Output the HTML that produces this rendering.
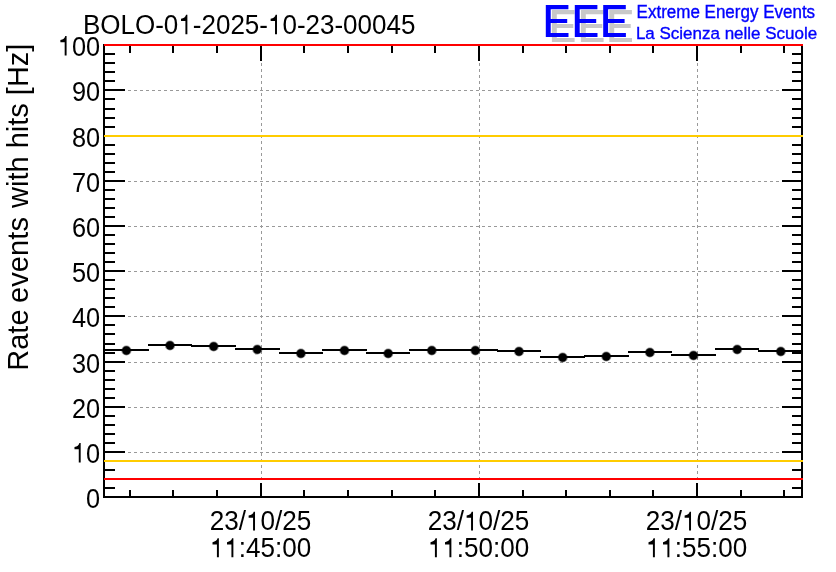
<!DOCTYPE html>
<html><head><meta charset="utf-8"><title>BOLO-01-2025-10-23-00045</title>
<style>html,body{margin:0;padding:0;background:#fff;}body{width:836px;height:572px;overflow:hidden;}svg{display:block;will-change:transform;}text{font-family:"Liberation Sans",sans-serif;font-kerning:none;}</style></head><body>
<svg width="836" height="572" viewBox="0 0 836 572">
<rect x="0" y="0" width="836" height="572" fill="#fff"/>
<g shape-rendering="crispEdges" stroke="#999" stroke-width="1" stroke-dasharray="3,3" fill="none">
<line x1="104" y1="452.5" x2="802" y2="452.5"/>
<line x1="104" y1="407.5" x2="802" y2="407.5"/>
<line x1="104" y1="362.5" x2="802" y2="362.5"/>
<line x1="104" y1="316.5" x2="802" y2="316.5"/>
<line x1="104" y1="271.5" x2="802" y2="271.5"/>
<line x1="104" y1="226.5" x2="802" y2="226.5"/>
<line x1="104" y1="181.5" x2="802" y2="181.5"/>
<line x1="104" y1="136.5" x2="802" y2="136.5"/>
<line x1="104" y1="90.5" x2="802" y2="90.5"/>
<line x1="261.5" y1="498" x2="261.5" y2="46"/>
<line x1="479.5" y1="498" x2="479.5" y2="46"/>
<line x1="697.5" y1="498" x2="697.5" y2="46"/>
</g>
<g shape-rendering="crispEdges">
<rect x="103" y="44" width="2" height="454" fill="#000"/>
<rect x="801" y="44" width="2" height="454" fill="#000"/>
<rect x="103" y="496" width="700" height="2" fill="#000"/>
<rect x="103" y="44" width="700" height="2" fill="#000"/>
<rect x="103" y="496" width="22" height="2" fill="#000"/>
<rect x="782" y="496" width="21" height="2" fill="#000"/>
<rect x="103" y="487" width="12" height="2" fill="#000"/>
<rect x="792" y="487" width="11" height="2" fill="#000"/>
<rect x="103" y="478" width="12" height="2" fill="#000"/>
<rect x="792" y="478" width="11" height="2" fill="#000"/>
<rect x="103" y="469" width="12" height="2" fill="#000"/>
<rect x="792" y="469" width="11" height="2" fill="#000"/>
<rect x="103" y="460" width="12" height="2" fill="#000"/>
<rect x="792" y="460" width="11" height="2" fill="#000"/>
<rect x="103" y="451" width="22" height="2" fill="#000"/>
<rect x="782" y="451" width="21" height="2" fill="#000"/>
<rect x="103" y="442" width="12" height="2" fill="#000"/>
<rect x="792" y="442" width="11" height="2" fill="#000"/>
<rect x="103" y="433" width="12" height="2" fill="#000"/>
<rect x="792" y="433" width="11" height="2" fill="#000"/>
<rect x="103" y="424" width="12" height="2" fill="#000"/>
<rect x="792" y="424" width="11" height="2" fill="#000"/>
<rect x="103" y="415" width="12" height="2" fill="#000"/>
<rect x="792" y="415" width="11" height="2" fill="#000"/>
<rect x="103" y="406" width="22" height="2" fill="#000"/>
<rect x="782" y="406" width="21" height="2" fill="#000"/>
<rect x="103" y="397" width="12" height="2" fill="#000"/>
<rect x="792" y="397" width="11" height="2" fill="#000"/>
<rect x="103" y="388" width="12" height="2" fill="#000"/>
<rect x="792" y="388" width="11" height="2" fill="#000"/>
<rect x="103" y="379" width="12" height="2" fill="#000"/>
<rect x="792" y="379" width="11" height="2" fill="#000"/>
<rect x="103" y="370" width="12" height="2" fill="#000"/>
<rect x="792" y="370" width="11" height="2" fill="#000"/>
<rect x="103" y="361" width="22" height="2" fill="#000"/>
<rect x="782" y="361" width="21" height="2" fill="#000"/>
<rect x="103" y="352" width="12" height="2" fill="#000"/>
<rect x="792" y="352" width="11" height="2" fill="#000"/>
<rect x="103" y="343" width="12" height="2" fill="#000"/>
<rect x="792" y="343" width="11" height="2" fill="#000"/>
<rect x="103" y="333" width="12" height="2" fill="#000"/>
<rect x="792" y="333" width="11" height="2" fill="#000"/>
<rect x="103" y="324" width="12" height="2" fill="#000"/>
<rect x="792" y="324" width="11" height="2" fill="#000"/>
<rect x="103" y="315" width="22" height="2" fill="#000"/>
<rect x="782" y="315" width="21" height="2" fill="#000"/>
<rect x="103" y="306" width="12" height="2" fill="#000"/>
<rect x="792" y="306" width="11" height="2" fill="#000"/>
<rect x="103" y="297" width="12" height="2" fill="#000"/>
<rect x="792" y="297" width="11" height="2" fill="#000"/>
<rect x="103" y="288" width="12" height="2" fill="#000"/>
<rect x="792" y="288" width="11" height="2" fill="#000"/>
<rect x="103" y="279" width="12" height="2" fill="#000"/>
<rect x="792" y="279" width="11" height="2" fill="#000"/>
<rect x="103" y="270" width="22" height="2" fill="#000"/>
<rect x="782" y="270" width="21" height="2" fill="#000"/>
<rect x="103" y="261" width="12" height="2" fill="#000"/>
<rect x="792" y="261" width="11" height="2" fill="#000"/>
<rect x="103" y="252" width="12" height="2" fill="#000"/>
<rect x="792" y="252" width="11" height="2" fill="#000"/>
<rect x="103" y="243" width="12" height="2" fill="#000"/>
<rect x="792" y="243" width="11" height="2" fill="#000"/>
<rect x="103" y="234" width="12" height="2" fill="#000"/>
<rect x="792" y="234" width="11" height="2" fill="#000"/>
<rect x="103" y="225" width="22" height="2" fill="#000"/>
<rect x="782" y="225" width="21" height="2" fill="#000"/>
<rect x="103" y="216" width="12" height="2" fill="#000"/>
<rect x="792" y="216" width="11" height="2" fill="#000"/>
<rect x="103" y="207" width="12" height="2" fill="#000"/>
<rect x="792" y="207" width="11" height="2" fill="#000"/>
<rect x="103" y="198" width="12" height="2" fill="#000"/>
<rect x="792" y="198" width="11" height="2" fill="#000"/>
<rect x="103" y="189" width="12" height="2" fill="#000"/>
<rect x="792" y="189" width="11" height="2" fill="#000"/>
<rect x="103" y="180" width="22" height="2" fill="#000"/>
<rect x="782" y="180" width="21" height="2" fill="#000"/>
<rect x="103" y="171" width="12" height="2" fill="#000"/>
<rect x="792" y="171" width="11" height="2" fill="#000"/>
<rect x="103" y="162" width="12" height="2" fill="#000"/>
<rect x="792" y="162" width="11" height="2" fill="#000"/>
<rect x="103" y="153" width="12" height="2" fill="#000"/>
<rect x="792" y="153" width="11" height="2" fill="#000"/>
<rect x="103" y="144" width="12" height="2" fill="#000"/>
<rect x="792" y="144" width="11" height="2" fill="#000"/>
<rect x="103" y="135" width="22" height="2" fill="#000"/>
<rect x="782" y="135" width="21" height="2" fill="#000"/>
<rect x="103" y="126" width="12" height="2" fill="#000"/>
<rect x="792" y="126" width="11" height="2" fill="#000"/>
<rect x="103" y="117" width="12" height="2" fill="#000"/>
<rect x="792" y="117" width="11" height="2" fill="#000"/>
<rect x="103" y="108" width="12" height="2" fill="#000"/>
<rect x="792" y="108" width="11" height="2" fill="#000"/>
<rect x="103" y="98" width="12" height="2" fill="#000"/>
<rect x="792" y="98" width="11" height="2" fill="#000"/>
<rect x="103" y="89" width="22" height="2" fill="#000"/>
<rect x="782" y="89" width="21" height="2" fill="#000"/>
<rect x="103" y="80" width="12" height="2" fill="#000"/>
<rect x="792" y="80" width="11" height="2" fill="#000"/>
<rect x="103" y="71" width="12" height="2" fill="#000"/>
<rect x="792" y="71" width="11" height="2" fill="#000"/>
<rect x="103" y="62" width="12" height="2" fill="#000"/>
<rect x="792" y="62" width="11" height="2" fill="#000"/>
<rect x="103" y="53" width="12" height="2" fill="#000"/>
<rect x="792" y="53" width="11" height="2" fill="#000"/>
<rect x="103" y="44" width="22" height="2" fill="#000"/>
<rect x="782" y="44" width="21" height="2" fill="#000"/>
<rect x="129" y="490" width="2" height="8" fill="#000"/>
<rect x="129" y="44" width="2" height="9" fill="#000"/>
<rect x="172" y="490" width="2" height="8" fill="#000"/>
<rect x="172" y="44" width="2" height="9" fill="#000"/>
<rect x="216" y="490" width="2" height="8" fill="#000"/>
<rect x="216" y="44" width="2" height="9" fill="#000"/>
<rect x="260" y="483" width="2" height="15" fill="#000"/>
<rect x="260" y="44" width="2" height="17" fill="#000"/>
<rect x="303" y="490" width="2" height="8" fill="#000"/>
<rect x="303" y="44" width="2" height="9" fill="#000"/>
<rect x="347" y="490" width="2" height="8" fill="#000"/>
<rect x="347" y="44" width="2" height="9" fill="#000"/>
<rect x="391" y="490" width="2" height="8" fill="#000"/>
<rect x="391" y="44" width="2" height="9" fill="#000"/>
<rect x="434" y="490" width="2" height="8" fill="#000"/>
<rect x="434" y="44" width="2" height="9" fill="#000"/>
<rect x="478" y="483" width="2" height="15" fill="#000"/>
<rect x="478" y="44" width="2" height="17" fill="#000"/>
<rect x="522" y="490" width="2" height="8" fill="#000"/>
<rect x="522" y="44" width="2" height="9" fill="#000"/>
<rect x="565" y="490" width="2" height="8" fill="#000"/>
<rect x="565" y="44" width="2" height="9" fill="#000"/>
<rect x="609" y="490" width="2" height="8" fill="#000"/>
<rect x="609" y="44" width="2" height="9" fill="#000"/>
<rect x="652" y="490" width="2" height="8" fill="#000"/>
<rect x="652" y="44" width="2" height="9" fill="#000"/>
<rect x="696" y="483" width="2" height="15" fill="#000"/>
<rect x="696" y="44" width="2" height="17" fill="#000"/>
<rect x="740" y="490" width="2" height="8" fill="#000"/>
<rect x="740" y="44" width="2" height="9" fill="#000"/>
<rect x="783" y="490" width="2" height="8" fill="#000"/>
<rect x="783" y="44" width="2" height="9" fill="#000"/>
<rect x="104" y="135" width="699" height="2" fill="#ffcc00"/>
<rect x="104" y="460" width="699" height="2" fill="#ffcc00"/>
<rect x="104" y="44" width="699" height="2" fill="#ff0000"/>
<rect x="104" y="478" width="699" height="2" fill="#ff0000"/>
<rect x="104" y="349" width="45" height="2" fill="#000"/>
<rect x="148" y="344" width="44" height="2" fill="#000"/>
<rect x="191" y="345" width="45" height="2" fill="#000"/>
<rect x="235" y="348" width="45" height="2" fill="#000"/>
<rect x="279" y="352" width="44" height="2" fill="#000"/>
<rect x="322" y="349" width="45" height="2" fill="#000"/>
<rect x="366" y="352" width="44" height="2" fill="#000"/>
<rect x="409" y="349" width="45" height="2" fill="#000"/>
<rect x="453" y="349" width="45" height="2" fill="#000"/>
<rect x="497" y="350" width="44" height="2" fill="#000"/>
<rect x="540" y="356" width="45" height="2" fill="#000"/>
<rect x="584" y="355" width="45" height="2" fill="#000"/>
<rect x="628" y="351" width="44" height="2" fill="#000"/>
<rect x="671" y="354" width="45" height="2" fill="#000"/>
<rect x="715" y="348" width="44" height="2" fill="#000"/>
<rect x="758" y="350" width="45" height="2" fill="#000"/>
</g>
<circle cx="126.4" cy="350.5" r="5.1" fill="#000" fill-opacity="0.45"/><circle cx="126.4" cy="350.5" r="4.2" fill="#000"/>
<circle cx="170.0" cy="345.5" r="5.1" fill="#000" fill-opacity="0.45"/><circle cx="170.0" cy="345.5" r="4.2" fill="#000"/>
<circle cx="213.7" cy="346.5" r="5.1" fill="#000" fill-opacity="0.45"/><circle cx="213.7" cy="346.5" r="4.2" fill="#000"/>
<circle cx="257.3" cy="349.5" r="5.1" fill="#000" fill-opacity="0.45"/><circle cx="257.3" cy="349.5" r="4.2" fill="#000"/>
<circle cx="300.9" cy="353.5" r="5.1" fill="#000" fill-opacity="0.45"/><circle cx="300.9" cy="353.5" r="4.2" fill="#000"/>
<circle cx="344.5" cy="350.5" r="5.1" fill="#000" fill-opacity="0.45"/><circle cx="344.5" cy="350.5" r="4.2" fill="#000"/>
<circle cx="388.2" cy="353.5" r="5.1" fill="#000" fill-opacity="0.45"/><circle cx="388.2" cy="353.5" r="4.2" fill="#000"/>
<circle cx="431.8" cy="350.5" r="5.1" fill="#000" fill-opacity="0.45"/><circle cx="431.8" cy="350.5" r="4.2" fill="#000"/>
<circle cx="475.4" cy="350.5" r="5.1" fill="#000" fill-opacity="0.45"/><circle cx="475.4" cy="350.5" r="4.2" fill="#000"/>
<circle cx="519.0" cy="351.5" r="5.1" fill="#000" fill-opacity="0.45"/><circle cx="519.0" cy="351.5" r="4.2" fill="#000"/>
<circle cx="562.7" cy="357.5" r="5.1" fill="#000" fill-opacity="0.45"/><circle cx="562.7" cy="357.5" r="4.2" fill="#000"/>
<circle cx="606.3" cy="356.5" r="5.1" fill="#000" fill-opacity="0.45"/><circle cx="606.3" cy="356.5" r="4.2" fill="#000"/>
<circle cx="649.9" cy="352.5" r="5.1" fill="#000" fill-opacity="0.45"/><circle cx="649.9" cy="352.5" r="4.2" fill="#000"/>
<circle cx="693.5" cy="355.5" r="5.1" fill="#000" fill-opacity="0.45"/><circle cx="693.5" cy="355.5" r="4.2" fill="#000"/>
<circle cx="737.2" cy="349.5" r="5.1" fill="#000" fill-opacity="0.45"/><circle cx="737.2" cy="349.5" r="4.2" fill="#000"/>
<circle cx="780.8" cy="351.5" r="5.1" fill="#000" fill-opacity="0.45"/><circle cx="780.8" cy="351.5" r="4.2" fill="#000"/>
<g transform="translate(100.1,507.55) scale(0.975,1.09)" fill="#000">
<text x="-14.46" y="0" font-size="26">0</text>
</g>
<g transform="translate(100.1,462.55) scale(0.975,1.09)" fill="#000">
<path transform="translate(-28.92,0) scale(1.0000)" d="M9.0 0L7.05 0L7.05 -12.16L2.65 -12.16L2.65 -14.3C5.5 -14.6 7.1 -15.9 7.7 -17.89L9.0 -17.89Z"/>
<text x="-14.46" y="0" font-size="26">0</text>
</g>
<g transform="translate(100.1,417.55) scale(0.975,1.09)" fill="#000">
<text x="-28.92" y="0" font-size="26">20</text>
</g>
<g transform="translate(100.1,372.55) scale(0.975,1.09)" fill="#000">
<text x="-28.92" y="0" font-size="26">30</text>
</g>
<g transform="translate(100.1,326.55) scale(0.975,1.09)" fill="#000">
<text x="-28.92" y="0" font-size="26">40</text>
</g>
<g transform="translate(100.1,281.55) scale(0.975,1.09)" fill="#000">
<text x="-28.92" y="0" font-size="26">50</text>
</g>
<g transform="translate(100.1,236.55) scale(0.975,1.09)" fill="#000">
<text x="-28.92" y="0" font-size="26">60</text>
</g>
<g transform="translate(100.1,191.55) scale(0.975,1.09)" fill="#000">
<text x="-28.92" y="0" font-size="26">70</text>
</g>
<g transform="translate(100.1,146.55) scale(0.975,1.09)" fill="#000">
<text x="-28.92" y="0" font-size="26">80</text>
</g>
<g transform="translate(100.1,100.55) scale(0.975,1.09)" fill="#000">
<text x="-28.92" y="0" font-size="26">90</text>
</g>
<g transform="translate(100.1,55.55) scale(0.975,1.09)" fill="#000">
<path transform="translate(-43.38,0) scale(1.0000)" d="M9.0 0L7.05 0L7.05 -12.16L2.65 -12.16L2.65 -14.3C5.5 -14.6 7.1 -15.9 7.7 -17.89L9.0 -17.89Z"/>
<text x="-28.92" y="0" font-size="26">00</text>
</g>
<g transform="translate(260.5,530.4) scale(1.005,1.048)" fill="#000">
<text x="-50.60" y="0" font-size="26">23/</text>
<path transform="translate(-14.46,0) scale(1.0000)" d="M9.0 0L7.05 0L7.05 -12.16L2.65 -12.16L2.65 -14.3C5.5 -14.6 7.1 -15.9 7.7 -17.89L9.0 -17.89Z"/>
<text x="0.00" y="0" font-size="26">0/25</text>
</g>
<g transform="translate(260.6,557.25) scale(1.003,1.056)" fill="#000">
<path transform="translate(-50.60,0) scale(1.0000)" d="M9.0 0L7.05 0L7.05 -12.16L2.65 -12.16L2.65 -14.3C5.5 -14.6 7.1 -15.9 7.7 -17.89L9.0 -17.89Z"/>
<path transform="translate(-36.14,0) scale(1.0000)" d="M9.0 0L7.05 0L7.05 -12.16L2.65 -12.16L2.65 -14.3C5.5 -14.6 7.1 -15.9 7.7 -17.89L9.0 -17.89Z"/>
<text x="-21.68" y="0" font-size="26">:45:00</text>
</g>
<g transform="translate(478.5,530.4) scale(1.005,1.048)" fill="#000">
<text x="-50.60" y="0" font-size="26">23/</text>
<path transform="translate(-14.46,0) scale(1.0000)" d="M9.0 0L7.05 0L7.05 -12.16L2.65 -12.16L2.65 -14.3C5.5 -14.6 7.1 -15.9 7.7 -17.89L9.0 -17.89Z"/>
<text x="0.00" y="0" font-size="26">0/25</text>
</g>
<g transform="translate(478.6,557.25) scale(1.003,1.056)" fill="#000">
<path transform="translate(-50.60,0) scale(1.0000)" d="M9.0 0L7.05 0L7.05 -12.16L2.65 -12.16L2.65 -14.3C5.5 -14.6 7.1 -15.9 7.7 -17.89L9.0 -17.89Z"/>
<path transform="translate(-36.14,0) scale(1.0000)" d="M9.0 0L7.05 0L7.05 -12.16L2.65 -12.16L2.65 -14.3C5.5 -14.6 7.1 -15.9 7.7 -17.89L9.0 -17.89Z"/>
<text x="-21.68" y="0" font-size="26">:50:00</text>
</g>
<g transform="translate(696.5,530.4) scale(1.005,1.048)" fill="#000">
<text x="-50.60" y="0" font-size="26">23/</text>
<path transform="translate(-14.46,0) scale(1.0000)" d="M9.0 0L7.05 0L7.05 -12.16L2.65 -12.16L2.65 -14.3C5.5 -14.6 7.1 -15.9 7.7 -17.89L9.0 -17.89Z"/>
<text x="0.00" y="0" font-size="26">0/25</text>
</g>
<g transform="translate(696.6,557.25) scale(1.003,1.056)" fill="#000">
<path transform="translate(-50.60,0) scale(1.0000)" d="M9.0 0L7.05 0L7.05 -12.16L2.65 -12.16L2.65 -14.3C5.5 -14.6 7.1 -15.9 7.7 -17.89L9.0 -17.89Z"/>
<path transform="translate(-36.14,0) scale(1.0000)" d="M9.0 0L7.05 0L7.05 -12.16L2.65 -12.16L2.65 -14.3C5.5 -14.6 7.1 -15.9 7.7 -17.89L9.0 -17.89Z"/>
<text x="-21.68" y="0" font-size="26">:55:00</text>
</g>
<g transform="translate(83,34.3) scale(1,1.086)" fill="#000">
<text x="0.00" y="0" font-size="26">BOLO-0</text>
<path transform="translate(95.37,0) scale(1.0000)" d="M9.0 0L7.05 0L7.05 -12.16L2.65 -12.16L2.65 -14.3C5.5 -14.6 7.1 -15.9 7.7 -17.89L9.0 -17.89Z"/>
<text x="109.83" y="0" font-size="26">-2025-</text>
<path transform="translate(184.98,0) scale(1.0000)" d="M9.0 0L7.05 0L7.05 -12.16L2.65 -12.16L2.65 -14.3C5.5 -14.6 7.1 -15.9 7.7 -17.89L9.0 -17.89Z"/>
<text x="199.44" y="0" font-size="26">0-23-00045</text>
</g>
<g transform="translate(27.7,370.7) rotate(-90) scale(1,1.03)" fill="#000" font-size="29">
<text x="0" y="0">Rate</text>
<text x="67.6" y="0" letter-spacing="0.15">events</text>
<text x="162.81" y="0">with hits [Hz]</text>
</g>
<g>
<path fill="#c8c8c8" d="M551.9 10.05h22.6v4.25h-17.7v9.65h16.5v4.1h-16.5v10h17.8v4h-22.7z"/>
<path fill="#c8c8c8" d="M580.9 10.05h22.6v4.25h-17.7v9.65h16.5v4.1h-16.5v10h17.8v4h-22.7z"/>
<path fill="#c8c8c8" d="M609.3 10.05h22.6v4.25h-17.7v9.65h16.5v4.1h-16.5v10h17.8v4h-22.7z"/>
<path fill="#0000ff" d="M545.8 5h22.6v4.25h-17.7v9.65h16.5v4.1h-16.5v10h17.8v4h-22.7z"/>
<path fill="#0000ff" d="M574.8 5h22.6v4.25h-17.7v9.65h16.5v4.1h-16.5v10h17.8v4h-22.7z"/>
<path fill="#0000ff" d="M603.2 5h22.6v4.25h-17.7v9.65h16.5v4.1h-16.5v10h17.8v4h-22.7z"/>
</g>
<text transform="translate(636.6,17.9) scale(1,1.03)" font-size="17" text-anchor="start" fill="#0000ff" stroke="#0000ff" stroke-width="0.35">Extreme Energy Events</text>
<text transform="translate(635.9,38.8) scale(1,1.02)" font-size="17" text-anchor="start" fill="#0000ff" stroke="#0000ff" stroke-width="0.35">La Scienza nelle Scuole</text>
</svg></body></html>
